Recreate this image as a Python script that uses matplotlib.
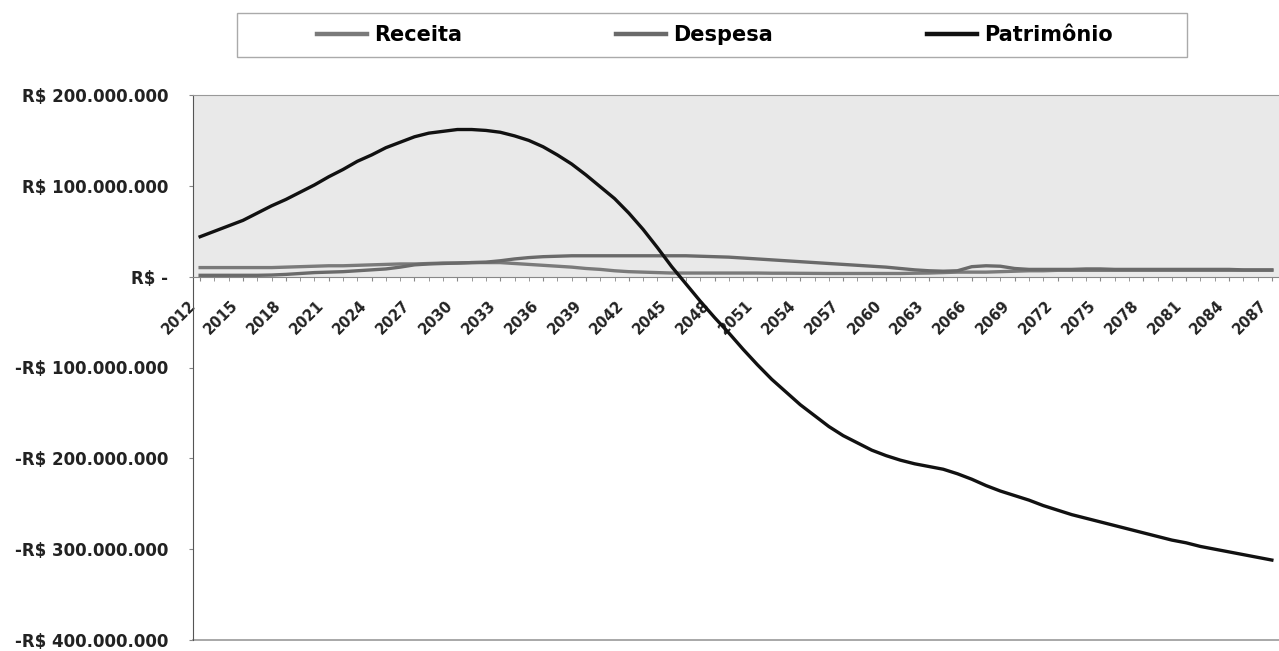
import matplotlib
matplotlib.use("Agg")
import matplotlib.pyplot as plt
import matplotlib.transforms as mtransforms
from matplotlib.patches import Rectangle

# valores em milhoes de R$
anos = list(range(2012, 2088))

receita = [10, 10, 10, 10, 10, 10,
           10.5, 11, 11.5, 12, 12, 12.5, 13, 13.5, 14, 14, 14.5, 15, 15, 15.5, 15.5,
           15.5, 14.5, 13.5, 12.5, 11.5, 10.5, 9, 8, 6.5, 5.5, 5, 4.5,
           4, 4, 4, 4, 4, 4, 4, 3.8, 3.8, 3.7, 3.6, 3.5, 3.5, 3.5, 3.5, 3.5,
           3.5, 3.8, 4, 4.5, 5, 5, 5, 5.5, 6, 6.5, 6.5, 7, 7, 7, 7, 7, 7, 7, 7, 7,
           7, 7, 7, 7, 7, 7, 7]

despesa = [1.5, 1.5, 1.5, 1.5, 1.5,
           1.8, 2.5, 3.5, 4.5, 5, 5.5, 6.5, 7.5, 8.5, 10.5, 13, 14, 14.5, 15, 15.5, 16,
           17.5, 19.5, 21, 22, 22.5,
           23, 23, 23, 23, 23, 23, 23, 23, 23,
           22.5, 22, 21.5, 20.5, 19.5, 18.5, 17.5, 16.5, 15.5, 14.5, 13.5, 12.5, 11.5,
           10.5, 9, 7.5, 6.5, 6, 6.5, 11, 12, 11.5, 9,
           8, 8, 8, 8, 8.5, 8.5, 8, 8, 8, 8, 8, 8, 8, 8, 8, 7.5, 7.5, 7.5]

patrimonio = [44, 50, 56, 62, 70, 78, 85, 93, 101, 110, 118, 127, 134, 142, 148,
              154, 158, 160, 162, 162, 161, 159, 155, 150, 143, 134, 124, 112, 99,
              86, 70, 52, 32, 11, -8, -27, -45, -62, -80, -97, -113, -127, -141,
              -153, -165, -175, -183, -191, -197, -202, -206, -209, -212, -217,
              -223, -230, -236, -241, -246, -252, -257, -262, -266, -270, -274,
              -278, -282, -286, -290, -293, -297, -300, -303, -306, -309, -312]

y_ticks = [200, 100, 0, -100, -200, -300, -400]
y_labels = ["R$ 200.000.000", "R$ 100.000.000", "R$ -", "-R$ 100.000.000",
            "-R$ 200.000.000", "-R$ 300.000.000", "-R$ 400.000.000"]
x_label_anos = list(range(2012, 2088, 3))

plt.rcParams['font.family'] = ['DejaVu Sans']

fig = plt.figure(figsize=(12.79, 6.51), dpi=100)
ax = fig.add_axes([193 / 1279, 11 / 651, 1086 / 1279, 545 / 651])

# fundo cinza da parte positiva (scan)
ax.axhspan(0, 200, color="#e9e9e9", zorder=0, lw=0)

ax.plot(anos, receita, color="#7a7a7a", lw=2.4, label="Receita", zorder=3)
ax.plot(anos, despesa, color="#6a6a6a", lw=2.4, label="Despesa", zorder=3)
ax.plot(anos, patrimonio, color="#111111", lw=2.4, label="Patrimônio", zorder=4)

ax.set_xlim(2011.5, 2087.5)
ax.set_ylim(-400, 200)

ax.spines['bottom'].set_position(('data', 0))
ax.spines['bottom'].set_color("#888888")
ax.spines['left'].set_color("#555555")
ax.spines['top'].set_color("#999999")
ax.spines['right'].set_visible(False)
ax.axhline(-400, color="#999999", lw=1.2, clip_on=False)

ax.set_yticks(y_ticks)
ax.set_yticklabels(y_labels, fontsize=12, fontweight='bold', color="#222222")
ax.tick_params(axis='y', length=3, color="#888888", pad=15)

ax.set_xticks(x_label_anos)
ax.set_xticks(anos, minor=True)
ax.set_xticklabels([str(a) for a in x_label_anos], fontsize=10.5, fontweight='bold',
                   color="#222222", rotation=45, ha='right', va='center',
                   rotation_mode='anchor')
ax.tick_params(axis='x', which='both', length=3, color="#888888", direction='out')
ax.tick_params(axis='x', which='major', pad=16)
shift = mtransforms.ScaledTranslation(-7 / 100, 0, fig.dpi_scale_trans)
for lab in ax.get_xticklabels():
    lab.set_transform(lab.get_transform() + shift)

# legenda em caixa no topo
fig.patches.append(Rectangle((237 / 1279, 1 - 57 / 651), 950 / 1279, 44 / 651,
                             transform=fig.transFigure, fill=False,
                             edgecolor="#aaaaaa", lw=1))
leg = fig.legend(loc='center', bbox_to_anchor=(715 / 1279, 1 - 35 / 651), ncol=3,
                 frameon=False, prop={'size': 15, 'weight': 'bold'},
                 handlelength=2.4, handletextpad=0.35, columnspacing=7.4)
for h in leg.legend_handles:
    h.set_linewidth(3.2)

fig.savefig("out.png", dpi=100)
